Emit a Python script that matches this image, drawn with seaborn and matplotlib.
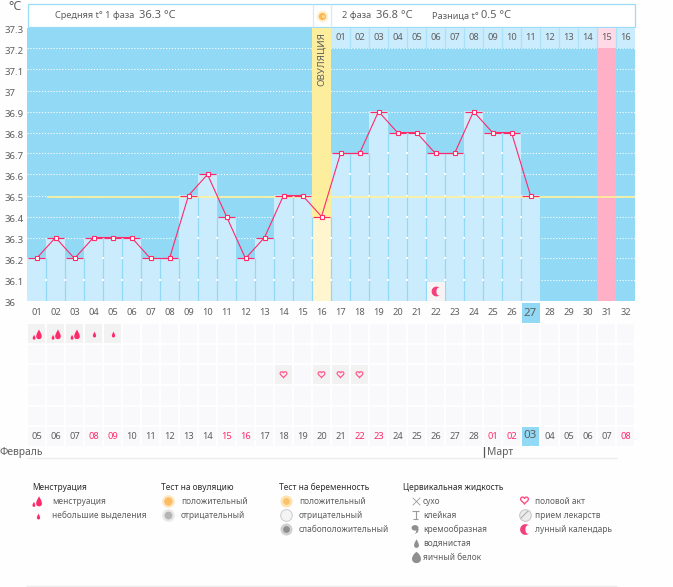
import numpy as np
import pandas as pd
import matplotlib
matplotlib.use("Agg")
import matplotlib.pyplot as plt
from matplotlib.colors import ListedColormap
from matplotlib.path import Path
from matplotlib.patches import Rectangle
from matplotlib.transforms import ScaledTranslation
import seaborn as sns

# ---------- data ----------
days = list(range(1, 33))
measured_days = list(range(1, 28))
temps = [36.2, 36.3, 36.2, 36.3, 36.3, 36.3, 36.2, 36.2, 36.5, 36.6, 36.4, 36.2, 36.3, 36.5,
         36.5, 36.4, 36.7, 36.7, 36.9, 36.8, 36.8, 36.7, 36.7, 36.9, 36.8, 36.8, 36.5]
y_ticks = [36, 36.1, 36.2, 36.3, 36.4, 36.5, 36.6, 36.7, 36.8, 36.9, 37, 37.1, 37.2, 37.3]
y_labels = ["36", "36.1", "36.2", "36.3", "36.4", "36.5", "36.6", "36.7", "36.8", "36.9",
            "37", "37.1", "37.2", "37.3"]
cover_line = 36.495
ovulation_day = 16
today = 27
peak_day = 31
moon_day = 22
phase2_labels = ["01", "02", "03", "04", "05", "06", "07", "08", "09", "10", "11", "12", "13", "14", "15", "16"]
date_labels = ["05", "06", "07", "08", "09", "10", "11", "12", "13", "14", "15", "16", "17", "18", "19", "20",
               "21", "22", "23", "24", "25", "26", "27", "28", "01", "02", "03", "04", "05", "06", "07", "08"]
weekend_days = [4, 5, 11, 12, 18, 19, 25, 26, 32]
heavy_days = [1, 2, 3]
light_days = [4, 5]
sex_days = [14, 16, 17, 18]

# ---------- colours ----------
BLUE = "#92d9f5"; BAR = "#cbecfd"; YEL = "#fdee9e"; PALE = "#fff6cf"; PINK = "#ffb0c6"; PINK2 = "#ffd9e5"
LINE = "#ff2a6a"; TXT = "#5f5f5f"; HEAD = "#2f2f2f"; GRID0 = "#f9f9fb"; GRID1 = "#f2f2f3"

sns.set_theme(style="white")
plt.rcParams["font.family"] = ["Noto Sans", "DejaVu Sans"]
FS = 6.7
LFS = 6.0

W, H = 673, 587
fig = plt.figure(figsize=(W / 100, H / 100), dpi=100, facecolor="#fefefe")

def axes_px(x0, y0, x1, y1, **kw):
    return fig.add_axes([x0 / W, 1 - y1 / H, (x1 - x0) / W, (y1 - y0) / H], **kw)

# overlay in pixel space for header and legend (below the data axes)
ov = axes_px(0, 0, W, H, zorder=0)
ov.set_xlim(0, W); ov.set_ylim(H, 0); ov.axis("off")

# ---------- main chart ----------
ax = axes_px(27, 27.5, 635, 300.5, zorder=1)
ax.set_facecolor(BLUE)
ax.set_xlim(0.5, 32.5); ax.set_ylim(36, 37.3)
for s in ax.spines.values():
    s.set_visible(False)
ax.grid(False)
ax.hlines(y_ticks[1:-1], 0.5, 32.5, colors="white", linestyles=(0, (1, 1.6)), linewidth=0.8, zorder=1)

df = pd.DataFrame({"day": measured_days, "temp": temps})
bar_cols = [PALE if d == ovulation_day else BAR for d in measured_days]
ax.bar(df.day, df.temp - 36, bottom=36, width=1.0, color=bar_cols, linewidth=0, zorder=2)
ax.bar([ovulation_day], [37.3 - temps[ovulation_day - 1]], bottom=temps[ovulation_day - 1],
       width=1, color=YEL, linewidth=0, zorder=2)
ax.bar([peak_day], [1.2], bottom=36, width=1.0, color=PINK, linewidth=0, zorder=2)
top_days = days[ovulation_day:]
ax.bar(top_days, [0.1] * len(top_days), bottom=37.2, width=1.0,
       color=[PINK2 if d == peak_day else BAR for d in top_days], linewidth=0, zorder=2)

# column separators with the white grid dashes showing through them
sep_x = [d - 0.5 for d in measured_days[1:]]
sep_top = [min(a, b) for a, b in zip(temps[:-1], temps[1:])]
ax.vlines(sep_x, 36, sep_top, colors=BLUE, linewidth=0.9, zorder=3)
ax.vlines([d + 0.5 for d in top_days[:-1]], 37.2, 37.3, colors="#a9e1f8", linewidth=0.9, zorder=3)
for x_, top in zip(sep_x, sep_top):
    ys = [v for v in y_ticks[1:-1] if v < top - 0.01]
    ax.scatter([x_] * len(ys), ys, marker="s", s=1.3, color="white", linewidth=0, zorder=3.2)

for d, lab in zip(top_days, phase2_labels):
    ax.text(d, 37.25, lab, ha="center", va="center", fontsize=FS, color=TXT, zorder=6)
ax.text(ovulation_day, 37.15, "ОВУЛЯЦИЯ", rotation=90, ha="center", va="center", fontsize=FS + 0.3, color=TXT, zorder=6)

ax.hlines(cover_line, 1.55, 32.5, colors="#fff29a", linewidth=1.2, zorder=3.5)
ax.hlines(df.temp, df.day - 0.47, df.day + 0.47, colors=LINE, linewidth=0.85, zorder=4)
sns.lineplot(data=df, x="day", y="temp", ax=ax, color=LINE, linewidth=0.8, marker="s", markersize=2.9,
             markerfacecolor="white", markeredgecolor=LINE, markeredgewidth=0.8, zorder=5, legend=False)

ax.set_xlabel(""); ax.set_ylabel("")
ax.set_xticks(days)
ax.set_xticklabels([f"{d:02d}" for d in days], fontsize=FS, color=TXT)
ax.set_yticks(y_ticks)
ax.set_yticklabels(y_labels, fontsize=FS + 0.2, color=TXT, ha="left")
ax.tick_params(axis="x", length=0, pad=5.6)
ax.tick_params(axis="y", length=0, pad=16)
off = ScaledTranslation(0, -2 / 100, fig.dpi_scale_trans)
for t in ax.get_yticklabels():
    t.set_transform(t.get_transform() + off)
for t, d in zip(ax.get_xticklabels(), days):
    if d == today:
        t.set_fontsize(FS + 1.6)
# today's cell below the axis
ov.add_patch(Rectangle((522, 303), 18, 20, facecolor=BLUE, edgecolor="none"))

# ---------- marker shapes ----------
def drop(w=0.6, k=1.5):
    t = np.linspace(0, 2 * np.pi, 40)
    return Path(np.c_[w * np.sin(t) * np.sin(t / 2) ** k * 1.3, np.cos(t)])

def heavy_drop():
    d1 = drop(0.62).vertices + np.array([0.3, 0.05])
    d2 = drop(0.62).vertices * 0.5 + np.array([-0.7, -0.55])
    return Path(np.vstack([d1, d2]), [1] + [2] * 39 + [1] + [2] * 39)

def heart():
    t = np.linspace(0, 2 * np.pi, 30)
    x = 16 * np.sin(t) ** 3
    y = 13 * np.cos(t) - 5 * np.cos(2 * t) - 2 * np.cos(3 * t) - np.cos(4 * t)
    return Path(np.c_[x, y + 2] / 16)

def crescent():
    a = np.linspace(np.pi * .3, np.pi * 1.7, 24)
    outer = np.c_[np.cos(a), np.sin(a)]
    inner = np.c_[0.45 + 0.55 * np.cos(a[::-1]) * .85, np.sin(a[::-1]) * .8]
    return Path(np.vstack([outer, inner, outer[:1]]))

def comma():
    a = np.linspace(-0.3, 1.6 * np.pi, 16)
    blob = np.c_[.75 * np.cos(a) - .1, .6 * np.sin(a) + .35]
    tail = np.array([[-.3, -.15], [.2, -.2], [.1, -.6], [-.2, -1], [.5, -.6], [.65, -.1]])
    return Path(np.vstack([blob, tail]))

def ibeam():
    return Path([(-.8, 1), (.8, 1), (0, 1), (0, -1), (-.6, -1), (.6, -1)], [1, 2, 1, 2, 1, 2])

# moon in chart
ax.add_patch(Rectangle((moon_day - 0.47, 36), 0.95, 0.09, facecolor="#f5f3f4", edgecolor="none", zorder=3.3))
ax.scatter([moon_day], [36.047], marker=crescent(), s=50, color="#f4407a", linewidth=0, zorder=6)

# ---------- lower grid ----------
g = axes_px(27, 323, 635, 447, zorder=1)
grid = np.zeros((6, 32), dtype=int)
for d in heavy_days + light_days:
    grid[0, d - 1] = 1
for d in sex_days:
    grid[2, d - 1] = 1
grid[5, today - 1] = 2
sns.heatmap(grid, ax=g, cmap=ListedColormap([GRID0, GRID1, BLUE]), vmin=0, vmax=2, cbar=False,
            linewidths=1.1, linecolor="#fefefe", xticklabels=False, yticklabels=False)
g.scatter([d - .5 for d in heavy_days], [.55] * len(heavy_days), marker=heavy_drop(), s=55, color=LINE, linewidth=0, zorder=5)
g.scatter([d - .5 for d in light_days], [.55] * len(light_days), marker=drop(0.6), s=18, color=LINE, linewidth=0, zorder=5)
g.scatter([d - .5 for d in sex_days], [2.5] * len(sex_days), marker=heart(), s=24, facecolor="none",
          edgecolor="#ff5c8d", linewidth=0.9, zorder=5)
for d, lab in zip(days, date_labels):
    big = d == today
    g.text(d - .5, 5.5 - (0.06 if big else 0), lab, ha="center", va="center", zorder=6,
           fontsize=FS + (1.6 if big else 0), color=LINE if d in weekend_days else TXT)
g.scatter([today - .5], [5.95], marker="^", s=5, color="white", linewidth=0, zorder=6)

# ---------- header ----------
ov.add_patch(Rectangle((27.5, 3.5), 607, 23.5, facecolor="white", edgecolor="#9adcf5", linewidth=0.9))
ov.vlines([313, 331], 3.5, 27, colors="#cfeefb", linewidth=0.9)
ov.scatter([322], [16], s=70, color="#fff0cf", linewidth=0)
ov.scatter([322], [16], s=28, color="#fdb856", linewidth=0)
ov.scatter([322.5], [15.5], s=5, color="#ffd98a", linewidth=0)

def T(x, y, s, size=FS, color=TXT, **kw):
    ov.text(x, y, s, fontsize=size, color=color, va="center", ha="left", **kw)

T(8.5, 6.5, "°C", size=9, color=TXT)
T(55, 16, "Средняя t° 1 фаза", size=6.6)
T(139, 15.5, "36.3 °C", size=8.0)
T(342.5, 16, "2 фаза", size=6.6)
T(376.5, 15.5, "36.8 °C", size=8.0)
T(432.5, 16, "Разница t°", size=6.6)
T(481, 15.5, "0.5 °C", size=8.0)

# months
T(0, 453, "Февраль", size=FS + 0.7)
T(487.5, 453, "Март", size=FS + 0.7)
ov.vlines(483.5, 429, 458, colors="#555555", linewidth=0.9)
ov.hlines(458, 27, 617, colors="#ececec", linewidth=1)
ov.hlines(586, 26, 617, colors="#ececec", linewidth=1)

# ---------- legend ----------
for x, s in [(32, "Менструация"), (161, "Тест на овуляцию"), (279, "Тест на беременность"), (403, "Цервикальная жидкость")]:
    T(x, 487, s, color=HEAD, size=LFS)
for x, y, s in [(52, 501, "менструация"), (52, 515, "небольшие выделения"),
                (181, 501, "положительный"), (181, 515, "отрицательный"),
                (299, 501, "положительный"), (299, 515, "отрицательный"), (299, 529, "слабоположительный"),
                (423, 501, "сухо"), (423, 515, "клейкая"), (423, 529, "кремообразная"),
                (423, 543, "водянистая"), (423, 557, "яичный белок"),
                (535, 501, "половой акт"), (535, 515, "прием лекарств"), (535, 529, "лунный календарь")]:
    T(x, y, s, size=LFS)

ov.scatter([37], [501], marker=heavy_drop(), s=60, color=LINE, linewidth=0)
ov.scatter([37.5], [515.5], marker=drop(0.6), s=18, color=LINE, linewidth=0)
ov.scatter([167.5], [500.5], s=85, color="#ffe9c4", linewidth=0)
ov.scatter([167.5], [500.5], s=38, color="#fdbd67", linewidth=0)
ov.scatter([167.5], [514.5], s=85, color="#e9e9e9", linewidth=0)
ov.scatter([167.5], [514.5], s=32, color="#b5b5b5", linewidth=0)
ov.scatter([286], [500.5], marker="o", s=75, color="#ffe3b0", linewidth=0)
ov.scatter([286], [500.5], marker="o", s=24, color="#f9c26b", linewidth=0)
ov.scatter([286], [514.5], marker="o", s=70, facecolor="#f4f4f4", edgecolor="#cccccc", linewidth=0.7)
ov.scatter([286], [528.5], marker="o", s=75, color="#d0d0d0", linewidth=0)
ov.scatter([286], [528.5], marker="o", s=24, color="#8f8f8f", linewidth=0)
ov.scatter([415.5], [501], marker="x", s=30, color="#9a9a9a", linewidth=0.6)
ov.scatter([415.5], [515], marker=ibeam(), s=32, facecolor="none", edgecolor="#9a9a9a", linewidth=0.8)
ov.scatter([415], [529], marker=comma(), s=45, color="#8f8f8f", linewidth=0)
ov.scatter([415.5], [543], marker=drop(0.6), s=40, color="#8f8f8f", linewidth=0)
ov.scatter([415.5], [557], marker=drop(0.75, 0.7), s=65, color="#8f8f8f", linewidth=0)
ov.scatter([524.5], [500.5], marker=heart(), s=32, facecolor="none", edgecolor="#ff4f85", linewidth=1)
ov.scatter([524.5], [514.5], s=70, facecolor="#ececec", edgecolor="#c4c4c4", linewidth=0.7)
ov.plot([521, 528], [518, 511], color="#b0b0b0", linewidth=0.8)
ov.scatter([524.5], [529], marker=crescent(), s=60, color="#f4407a", linewidth=0)

fig.savefig("out.png", dpi=100)
